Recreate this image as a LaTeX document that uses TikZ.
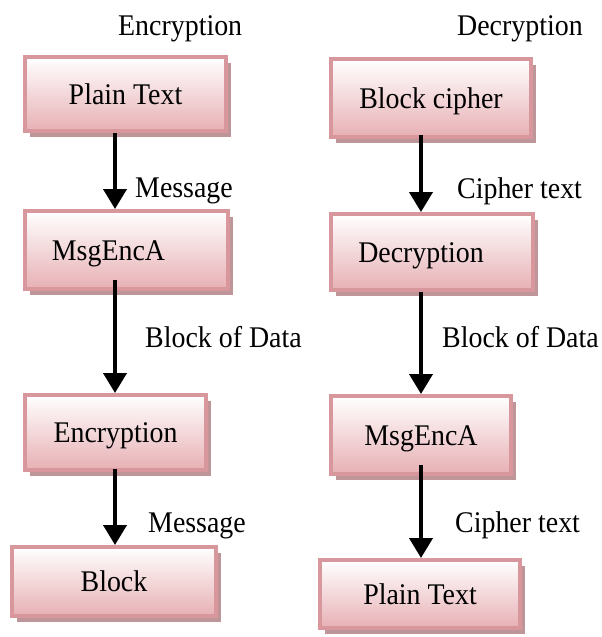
\documentclass[tikz,border=0pt]{standalone}
\usepackage{fontspec}
\setmainfont[FakeStretch=0.93]{Liberation Serif}
\usetikzlibrary{arrows.meta,shadows,calc}

\definecolor{boxedge}{RGB}{215,151,156}
\definecolor{boxbottom}{RGB}{231,176,180}
\definecolor{boxshadow}{RGB}{190,150,153}

\begin{document}
\begin{tikzpicture}[x=1pt,y=-1pt,
  txt/.style={font=\rmfamily\fontsize{30}{36}\selectfont, text height=26pt, text depth=6pt, inner sep=0pt},
  stepbox/.style={txt, draw=boxedge, line width=4pt,
    top color=white, bottom color=boxbottom,
    drop shadow={shadow xshift=5pt, shadow yshift=-6pt, fill=boxshadow, opacity=1}},
  flow/.style={line width=4pt, -{Triangle[width=23pt,length=20pt]}},
  lbl/.style={txt, anchor=west}]

\useasboundingbox (0,0) rectangle (602,637);

% column headings
\node[lbl] (encT) at (118,25) {Encryption};
\node[lbl] (decT) at (457,25) {Decryption};

% encryption column
\node[stepbox, minimum width=201pt, minimum height=74pt] (L1) at (125.5,94) {Plain Text};
\node[stepbox, minimum width=203pt, minimum height=78pt] (L2) at (126.5,250) {\hspace*{-18pt}MsgEncA\hspace*{18pt}};
\node[stepbox, minimum width=181pt, minimum height=75pt] (L3) at (115.5,432.5) {Encryption};
\node[stepbox, minimum width=204pt, minimum height=69pt] (L4) at (114,581.5) {Block};

% decryption column
\node[stepbox, minimum width=200pt, minimum height=78pt] (R1) at (431,98) {Block cipher};
\node[stepbox, minimum width=202pt, minimum height=76pt] (R2) at (432,252) {\hspace*{-11pt}Decryption\hspace*{11pt}};
\node[stepbox, minimum width=180pt, minimum height=78pt] (R3) at (421,435) {MsgEncA};
\node[stepbox, minimum width=200pt, minimum height=68pt] (R4) at (420,594) {Plain Text};

% arrow axes
\coordinate (colL) at (115,0);
\coordinate (colR) at (421,0);

% connectors
\draw[flow] (L1.south -| colL) -- (L2.north -| colL);
\draw[flow] ($(L2.south -| colL)+(0,-11)$) -- (L3.north -| colL);
\draw[flow] ($(L3.south -| colL)+(0,-3)$) -- (L4.north -| colL);
\draw[flow] ($(R1.south -| colR)+(0,-4)$) -- (R2.north -| colR);
\draw[flow] (R2.south -| colR) -- (R3.north -| colR);
\draw[flow] ($(R3.south -| colR)+(0,-11)$) -- (R4.north -| colR);

% connector labels
\node[lbl] (m1) at (135,187) {Message};
\node[lbl] (b1) at (145,337) {Block of Data};
\node[lbl] (m2) at (148,522) {Message};
\node[lbl] (c1) at (457,188) {Cipher text};
\node[lbl] (b2) at (442,337) {Block of Data};
\node[lbl] (c2) at (455,522) {Cipher text};
\end{tikzpicture}
\end{document}
